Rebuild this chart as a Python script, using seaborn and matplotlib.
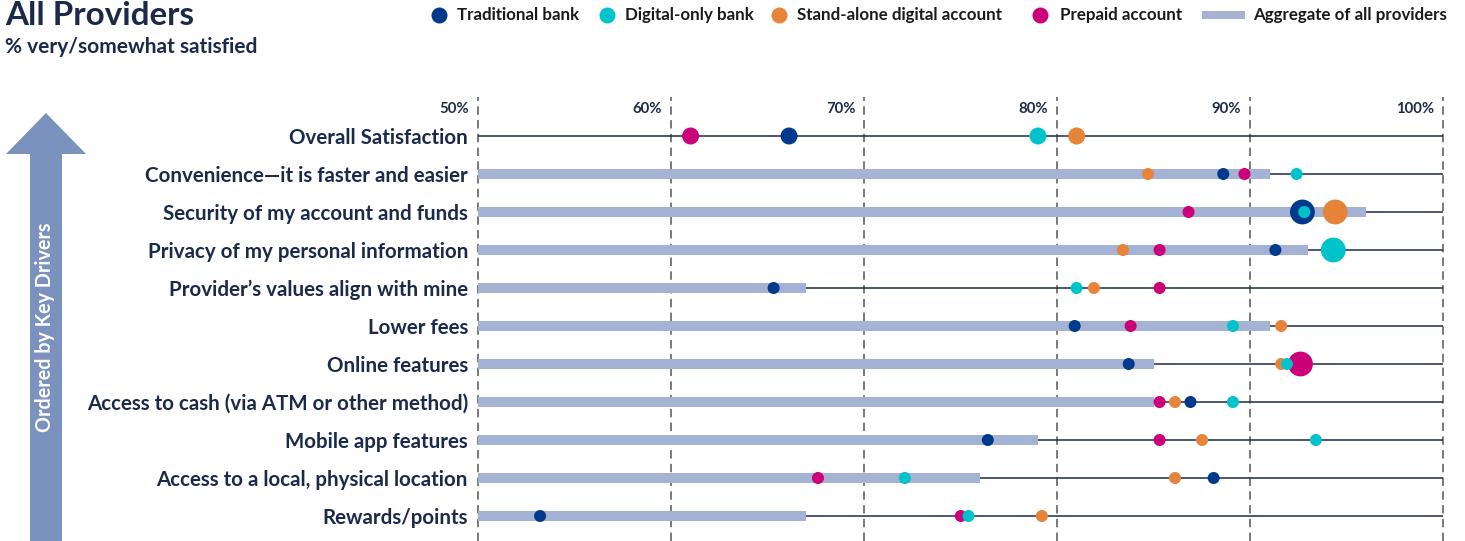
import numpy as np
import pandas as pd
import matplotlib
matplotlib.use("Agg")
import matplotlib.pyplot as plt
from matplotlib.patches import Polygon, Rectangle
from matplotlib.lines import Line2D
import seaborn as sns

# ---------------- data ----------------
categories = [
    "Overall Satisfaction",
    "Convenience\u2014it is faster and easier",
    "Security of my account and funds",
    "Privacy of my personal information",
    "Provider\u2019s values align with mine",
    "Lower fees",
    "Online features",
    "Access to cash (via ATM or other method)",
    "Mobile app features",
    "Access to a local, physical location",
    "Rewards/points",
]
aggregate = [np.nan, 91.0, 96.0, 93.0, 67.0, 91.0, 85.0, 85.0, 79.0, 76.0, 67.0]
traditional_bank = [66.1, 88.6, 92.7, 91.3, 65.3, 80.9, 83.7, 86.9, 76.4, 88.1, 53.2]
digital_only_bank = [79.0, 92.4, 92.8, 94.3, 81.0, 89.1, 91.9, 89.1, 93.4, 72.1, 75.4]
standalone_digital = [81.0, 84.7, 94.4, 83.4, 81.9, 91.6, 91.6, 86.1, 87.5, 86.1, 79.2]
prepaid_account = [61.0, 89.7, 86.8, 85.3, 85.3, 83.8, 92.6, 85.3, 85.3, 67.6, 75.0]
# highlighted (larger) points: (provider, category index)
highlighted = [("Traditional bank", 2), ("Stand-alone digital account", 2),
               ("Digital-only bank", 3), ("Prepaid account", 6)]
tick_values = [50, 60, 70, 80, 90, 100]
tick_labels = ["50%", "60%", "70%", "80%", "90%", "100%"]

providers = ["Traditional bank", "Digital-only bank", "Stand-alone digital account", "Prepaid account"]
series = {
    "Traditional bank": traditional_bank,
    "Digital-only bank": digital_only_bank,
    "Stand-alone digital account": standalone_digital,
    "Prepaid account": prepaid_account,
}
palette = {
    "Traditional bank": "#003A8C",
    "Digital-only bank": "#00C3CC",
    "Stand-alone digital account": "#E8833A",
    "Prepaid account": "#CC0078",
}
draw_rank = {"Traditional bank": 0, "Prepaid account": 1,
             "Stand-alone digital account": 2, "Digital-only bank": 3}

rows = []
for p in providers:
    for i, v in enumerate(series[p]):
        if (p, i) in highlighted:
            sz = "large"
        elif i == 0:
            sz = "medium"
        else:
            sz = "small"
        rows.append({"provider": p, "row": i, "value": v, "sz": sz})
df = pd.DataFrame(rows)
df["szr"] = df["sz"].map({"large": 0, "medium": 1, "small": 1})
df["pr"] = df["provider"].map(draw_rank)
df = df.sort_values(["szr", "pr"]).reset_index(drop=True)

agg_df = pd.DataFrame({"row": list(range(len(categories))), "value": aggregate}).dropna()

# ---------------- style ----------------
sns.set_theme(style="white")
plt.rcParams["font.family"] = ["Lato", "DejaVu Sans"]

W, H = 1465, 541
fig = plt.figure(figsize=(W / 100, H / 100), dpi=100)
px_per_unit = 19.3
x0_px = 478.3
xmin, xmax = 50, 100.15
ax_left = x0_px / W
ax_width = (xmax - xmin) * px_per_unit / W
ax_top_px = 97
ax = fig.add_axes([ax_left, 0, ax_width, (H - ax_top_px) / H])

navy_text = "#1B2A4A"
bar_color = "#A4B3D3"

# row rules
for i in range(len(categories)):
    ax.plot([50, 100], [i, i], color=navy_text, lw=1.1, zorder=1, solid_capstyle="butt")

# aggregate bars
sns.barplot(data=agg_df, x="value", y="row", orient="h", native_scale=True,
            color=bar_color, width=0.24, errorbar=None, saturation=1,
            ax=ax, zorder=2, linewidth=0)

# grid lines
for t in tick_values:
    ax.axvline(t, color="#555555", lw=1.1, ls=(0, (5.5, 3.5)), zorder=0.5, clip_on=False)

# points
sns.scatterplot(data=df, x="value", y="row", hue="provider", hue_order=providers,
                palette=palette, size="sz",
                sizes={"small": 75, "medium": 150, "large": 320},
                linewidth=0, legend=False, ax=ax, zorder=3)

ax.set_xlim(xmin, xmax)
ax.set_ylim((H - 136) / 38, (ax_top_px - 136) / 38)
for s in ax.spines.values():
    s.set_visible(False)
ax.set_xlabel("")
ax.set_ylabel("")
ax.set_xticks([])
ax.set_yticks(range(len(categories)))
ax.set_yticklabels(categories, fontsize=14.8, fontweight="bold", color=navy_text)
ax.tick_params(axis="y", length=0, pad=7.5)

# tick value labels
y_lab = (109 - 136) / 38
for t, lab in zip(tick_values, tick_labels):
    ax.text(t - 9 / px_per_unit, y_lab, lab, ha="right", va="center",
            fontsize=10.7, fontweight="bold", color=navy_text)

# titles
fig.text(5 / W, 1 - 25 / H, "All Providers", fontsize=23.9, fontweight="bold",
         color=navy_text, va="baseline", ha="left")
fig.text(5 / W, 1 - 53 / H, "% very/somewhat satisfied", fontsize=15, fontweight="bold",
         color=navy_text, va="baseline", ha="left")

# arrow
def fp(x, y):
    return (x / W, 1 - y / H)
arrow_pts = [fp(46, 113), fp(86, 154), fp(62, 154), fp(62, H), fp(30, H), fp(30, 154), fp(6, 154)]
fig.add_artist(Polygon(arrow_pts, closed=True, transform=fig.transFigure,
                       facecolor="#7B92BF", edgecolor="none"))
fig.text(45 / W, 1 - 327 / H, "Ordered by Key Drivers", rotation=90, color="white",
         fontsize=14.2, fontweight="bold", ha="center", va="center")

# legend
leg_y = 1 - 15 / H
legend_items = [(439, 457, "Traditional bank", "#003A8C"),
                (607, 625, "Digital-only bank", "#00C3CC"),
                (779, 797, "Stand-alone digital account", "#E8833A"),
                (1040, 1060, "Prepaid account", "#CC0078")]
for mx, tx, lab, col in legend_items:
    fig.add_artist(Line2D([mx / W], [leg_y], marker="o", ms=11.5, color=col,
                          markeredgewidth=0, transform=fig.transFigure))
    fig.text(tx / W, leg_y, lab, fontsize=12.2, fontweight="bold", color="#1a1a1a",
             ha="left", va="center")
fig.add_artist(Rectangle((1202 / W, 1 - 18.5 / H), 43 / W, 7 / H, transform=fig.transFigure,
                         facecolor=bar_color, edgecolor="none"))
fig.text(1253 / W, leg_y, "Aggregate of all providers", fontsize=12.2, fontweight="bold",
         color="#1a1a1a", ha="left", va="center")

fig.savefig("out.png", dpi=100)
